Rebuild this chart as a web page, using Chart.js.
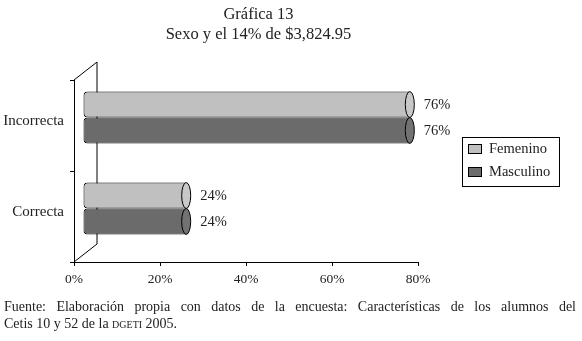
<!DOCTYPE html>
<html>
<head>
<meta charset="utf-8">
<script src="https://cdn.jsdelivr.net/npm/chart.js@4"></script>
<style>
  body { margin: 0; background: #fff; }
  #wrap { position: relative; width: 582px; height: 341px; font-family: "Liberation Serif", serif; color: #222; }
  #plot { position: absolute; left: 0; top: 0; }
  .title { position: absolute; left: 0; width: 517px; text-align: center; font-size: 16.5px; line-height: 20px; }
  #foot { position: absolute; left: 4px; top: 298px; width: 572px; font-size: 14px; line-height: 17px; }
  #foot .l1 { text-align: justify; text-align-last: justify; }
  .sc { font-variant: small-caps; }
</style>
</head>
<body>
<div id="wrap">
  <canvas id="plot" width="582" height="341"></canvas>
  <div class="title" style="top:4px">Gráfica 13</div>
  <div class="title" style="top:24px">Sexo y el 14% de $3,824.95</div>
  <div id="foot">
    <div class="l1">Fuente: Elaboración propia con datos de la encuesta: Características de los alumnos del</div>
    <div>Cetis 10 y 52 de la <span class="sc">dgeti</span> 2005.</div>
  </div>
</div>
<script>
const categories = ['Incorrecta', 'Correcta'];
const femenino = [76, 24];
const masculino = [76, 24];
const seriesNames = ['Femenino', 'Masculino'];
const xTicks = [0, 20, 40, 60, 80];

const fillColors = ['#c0c0c0', '#6b6b6b'];
const capColors = ['#c8c8c8', '#727272'];

// 3d look: back wall is one depth away, bars sit half way in
const depth = { x: 23, y: -18 };
const shift = { x: 9, y: -8 };

const fakeThreeD = {
    id: 'fakeThreeD',
    beforeDatasetsDraw(chart) {
        const ctx = chart.ctx;
        const a = chart.chartArea;
        ctx.save();
        ctx.strokeStyle = '#000';
        ctx.lineWidth = 1;
        ctx.beginPath();
        ctx.moveTo(a.left, a.top);
        ctx.lineTo(a.left + depth.x, a.top + depth.y);
        ctx.lineTo(a.left + depth.x, a.bottom + depth.y);
        ctx.lineTo(a.left, a.bottom);
        ctx.stroke();
        ctx.restore();
        ctx.save();
        ctx.translate(shift.x, shift.y);
    },
    afterDatasetsDraw(chart) {
        const ctx = chart.ctx;
        // end caps of the cylinders
        chart.data.datasets.forEach((ds, i) => {
            chart.getDatasetMeta(i).data.forEach(el => {
                ctx.beginPath();
                ctx.ellipse(el.x, el.y, 4.5, el.height / 2, 0, 0, Math.PI * 2);
                ctx.fillStyle = capColors[i];
                ctx.fill();
                ctx.strokeStyle = '#000';
                ctx.lineWidth = 1;
                ctx.stroke();
            });
        });
        ctx.restore();

        // value labels
        ctx.save();
        ctx.font = '14.5px "Liberation Serif"';
        ctx.fillStyle = '#222';
        ctx.textAlign = 'left';
        ctx.textBaseline = 'middle';
        chart.data.datasets.forEach((ds, i) => {
            chart.getDatasetMeta(i).data.forEach((el, j) => {
                ctx.fillText(ds.data[j] + '%', el.x + shift.x + 14, el.y + shift.y + 1);
            });
        });
        ctx.restore();
    },
    afterDraw(chart) {
        // boxed legend on the right
        const ctx = chart.ctx;
        ctx.save();
        ctx.strokeStyle = '#000';
        ctx.lineWidth = 1;
        ctx.strokeRect(462.5, 137.5, 97, 49);
        ctx.font = '14.5px "Liberation Serif"';
        ctx.textBaseline = 'middle';
        chart.data.datasets.forEach((ds, i) => {
            const y = 149 + i * 23;
            ctx.fillStyle = fillColors[i];
            ctx.fillRect(468.5, y - 4.5, 13, 9);
            ctx.strokeRect(468.5, y - 4.5, 13, 9);
            ctx.fillStyle = '#222';
            ctx.fillText(ds.label, 489, y);
        });
        ctx.restore();
    }
};

new Chart(document.getElementById('plot'), {
    type: 'bar',
    data: {
        labels: categories,
        datasets: [
            { label: seriesNames[0], data: femenino },
            { label: seriesNames[1], data: masculino }
        ].map((d, i) => Object.assign(d, {
            backgroundColor: fillColors[i],
            borderColor: '#000',
            borderWidth: 1,
            borderSkipped: false,
            borderRadius: { topLeft: 4, bottomLeft: 4, topRight: 0, bottomRight: 0 },
            barPercentage: 1,
            categoryPercentage: 0.57,
            clip: false
        }))
    },
    options: {
        indexAxis: 'y',
        responsive: false,
        animation: false,
        layout: { padding: { top: 80, right: 164, bottom: 49, left: 0 } },
        plugins: {
            legend: { display: false },
            tooltip: { enabled: false }
        },
        scales: {
            x: {
                min: 0,
                max: 80,
                afterFit(s) { s.height = 30; },
                afterBuildTicks(s) { s.ticks = xTicks.map(v => ({ value: v })); },
                grid: { drawOnChartArea: false, tickLength: 4, color: '#000' },
                border: { color: '#000' },
                ticks: {
                    padding: 5,
                    color: '#222',
                    font: { family: 'Liberation Serif', size: 13.5 },
                    callback: v => v + '%'
                }
            },
            y: {
                afterFit(s) { s.width = 74; },
                grid: { drawOnChartArea: false, tickLength: 4, color: '#000', offset: true },
                border: { color: '#000' },
                ticks: {
                    padding: 6,
                    labelOffset: -4,
                    color: '#222',
                    font: { family: 'Liberation Serif', size: 15 }
                }
            }
        }
    },
    plugins: [fakeThreeD]
});
</script>
</body>
</html>
